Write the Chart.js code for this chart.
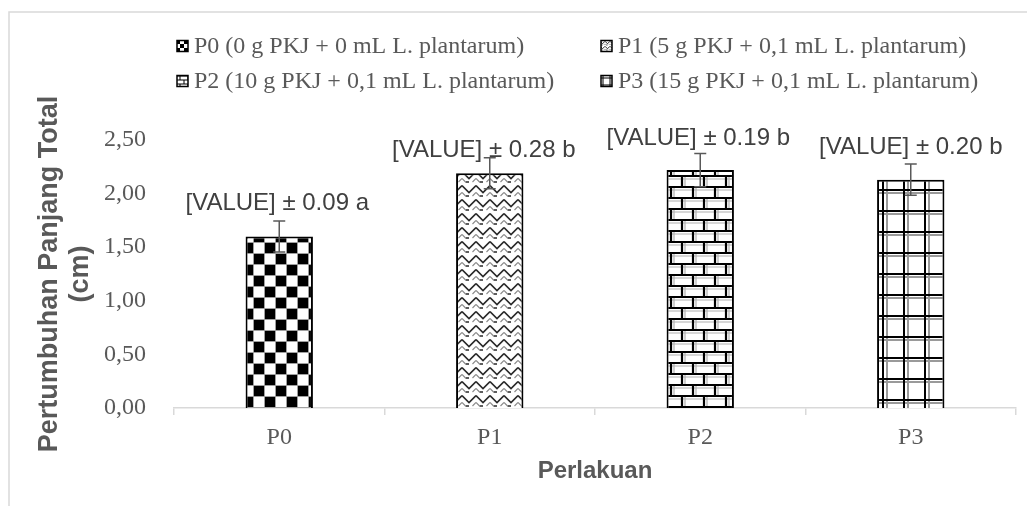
<!DOCTYPE html>
<html>
<head>
<meta charset="utf-8">
<script src="https://cdn.jsdelivr.net/npm/chart.js@4.4.0/dist/chart.umd.min.js"></script>
<style>
  html, body { margin: 0; padding: 0; background: #fff; }
  #wrap { width: 1027px; height: 506px; }
</style>
</head>
<body>
<div id="wrap"><canvas id="chart" width="1027" height="506"></canvas></div>
<script>
// data
const categories = ['P0', 'P1', 'P2', 'P3'];
const legendNames = [
  'P0 (0 g PKJ + 0 mL L. plantarum)',
  'P1 (5 g PKJ + 0,1 mL L. plantarum)',
  'P2 (10 g PKJ + 0,1 mL L. plantarum)',
  'P3 (15 g PKJ + 0,1 mL L. plantarum)'
];
const growth = [1.60, 2.19, 2.22, 2.13];
const errors = [0.145, 0.145, 0.155, 0.145];
const valueLabels = ['[VALUE] ± 0.09 a', '[VALUE] ± 0.28 b', '[VALUE] ± 0.19 b', '[VALUE] ± 0.20 b'];
const yTicks = [0, 0.5, 1, 1.5, 2, 2.5];
const patternKinds = ['checker', 'weave', 'brick', 'grid'];

const grey = '#595959';

// excel-like fill patterns
function makePattern(kind, s) {
  const c = document.createElement('canvas');
  const g = c.getContext('2d');
  if (kind === 'checker') {
    const k = Math.max(2, Math.round(11 * s));
    c.width = c.height = 2 * k;
    g.fillStyle = '#fff'; g.fillRect(0, 0, 2 * k, 2 * k);
    g.fillStyle = '#000';
    g.fillRect(0, 0, k, k);
    g.fillRect(k, k, k, k);
    if (s > 0.6) {
      g.strokeStyle = '#a0a0a0'; g.lineWidth = 1;
      g.beginPath();
      g.moveTo(0, 0.5); g.lineTo(2 * k, 0.5);
      g.moveTo(0, k + 0.5); g.lineTo(2 * k, k + 0.5);
      g.moveTo(0.5, 0); g.lineTo(0.5, 2 * k);
      g.moveTo(k + 0.5, 0); g.lineTo(k + 0.5, 2 * k);
      g.stroke();
    }
  } else if (kind === 'weave') {
    const t = Math.max(4, Math.round(14 * s));
    c.width = c.height = t;
    g.fillStyle = '#fff'; g.fillRect(0, 0, t, t);
    g.strokeStyle = '#2a2a2a'; g.lineWidth = Math.max(1, 1.6 * s);
    g.beginPath();
    for (const a of [-t, 0]) {
      g.moveTo(0, a + t / 4);
      g.lineTo(t / 2, a + 3 * t / 4);
      g.lineTo(t, a + t / 4);
      g.moveTo(t / 4, a + t);
      g.lineTo(t / 2, a + 3 * t / 4 + t / 4);
    }
    g.stroke();
    g.strokeStyle = '#8a8a8a'; g.lineWidth = Math.max(0.8, 1.2 * s);
    g.beginPath();
    for (const a of [-t, 0]) {
      g.moveTo(0, a + 3 * t / 4);
      g.lineTo(t / 4, a + t);
      g.moveTo(3 * t / 4, a + t);
      g.lineTo(t, a + 3 * t / 4);
    }
    g.stroke();
  } else if (kind === 'brick') {
    const w = Math.max(4, Math.round(22 * s)), h = Math.max(2, Math.round(11 * s));
    c.width = w; c.height = 2 * h;
    g.fillStyle = '#fff'; g.fillRect(0, 0, w, 2 * h);
    const lw = Math.max(1, 2.2 * s);
    if (s > 0.6) {
      g.strokeStyle = '#b0b0b0'; g.lineWidth = 1.2;
      g.beginPath();
      g.moveTo(0, 3); g.lineTo(w, 3);
      g.moveTo(0, h + 3); g.lineTo(w, h + 3);
      g.moveTo(3, 0); g.lineTo(3, h);
      g.moveTo(w / 2 + 3, h); g.lineTo(w / 2 + 3, 2 * h);
      g.stroke();
    }
    g.strokeStyle = '#000'; g.lineWidth = lw;
    g.beginPath();
    g.moveTo(0, 0); g.lineTo(w, 0);
    g.moveTo(0, h); g.lineTo(w, h);
    g.moveTo(0, 2 * h); g.lineTo(w, 2 * h);
    g.moveTo(0, 0); g.lineTo(0, h);
    g.moveTo(w, 0); g.lineTo(w, h);
    g.moveTo(w / 2, h); g.lineTo(w / 2, 2 * h);
    g.stroke();
  } else {
    const k = Math.max(3, Math.round(21 * s));
    c.width = c.height = k;
    g.fillStyle = '#fff'; g.fillRect(0, 0, k, k);
    if (s > 0.6) {
      g.strokeStyle = '#9a9a9a'; g.lineWidth = 2;
      g.beginPath();
      g.moveTo(5, 0); g.lineTo(5, k);
      g.moveTo(0, 4); g.lineTo(k, 4);
      g.stroke();
    }
    g.strokeStyle = '#000'; g.lineWidth = Math.max(1, 2 * s);
    g.beginPath();
    g.moveTo(1, 0); g.lineTo(1, k);
    g.moveTo(0, 1); g.lineTo(k, 1);
    g.stroke();
  }
  return g.createPattern(c, 'repeat');
}

const barFills = patternKinds.map(k => makePattern(k, 1));
const swatchFills = patternKinds.map(k => makePattern(k, 0.35));

// frame + legend drawn on the canvas
const frameAndLegend = {
  id: 'frameAndLegend',
  beforeDraw(chart) {
    const ctx = chart.ctx;
    ctx.save();
    ctx.strokeStyle = '#d9d9d9';
    ctx.lineWidth = 1.5;
    ctx.beginPath();
    ctx.moveTo(9, chart.height);
    ctx.lineTo(9, 12);
    ctx.lineTo(chart.width, 12);
    ctx.stroke();

    const cols = [177, 601], rows = [46, 81];
    ctx.font = '24px "Liberation Serif"';
    ctx.textBaseline = 'middle';
    ctx.textAlign = 'left';
    legendNames.forEach((name, i) => {
      const x = cols[i % 2], y = rows[Math.floor(i / 2)];
      ctx.fillStyle = swatchFills[i];
      ctx.fillRect(x, y - 5.5, 11, 11);
      ctx.strokeStyle = '#000';
      ctx.lineWidth = 1.5;
      ctx.strokeRect(x, y - 5.5, 11, 11);
      ctx.fillStyle = grey;
      ctx.fillText(name, x + 17, y + 1);
    });
    ctx.restore();
  }
};

// error bars and value labels
const barExtras = {
  id: 'barExtras',
  afterDatasetsDraw(chart, args, opts) {
    const ctx = chart.ctx;
    const y = chart.scales.y;
    const meta = chart.getDatasetMeta(0);
    ctx.save();
    meta.data.forEach((bar, i) => {
      const hi = y.getPixelForValue(growth[i] + errors[i]);
      const lo = y.getPixelForValue(growth[i] - errors[i]);
      ctx.strokeStyle = grey;
      ctx.lineWidth = 1.5;
      ctx.beginPath();
      ctx.moveTo(bar.x, hi); ctx.lineTo(bar.x, lo);
      ctx.moveTo(bar.x - 6, hi); ctx.lineTo(bar.x + 6, hi);
      ctx.moveTo(bar.x - 6, lo); ctx.lineTo(bar.x + 6, lo);
      ctx.stroke();

      ctx.font = '24px "Liberation Sans"';
      ctx.fillStyle = '#404040';
      ctx.textAlign = 'center';
      ctx.textBaseline = 'middle';
      ctx.fillText(valueLabels[i], bar.x + opts.dx[i], bar.y - opts.lift[i]);
    });
    ctx.restore();
  }
};

new Chart(document.getElementById('chart'), {
  type: 'bar',
  data: {
    labels: categories,
    datasets: [{
      label: 'Pertumbuhan Panjang Total',
      data: growth,
      backgroundColor: barFills,
      borderColor: '#000',
      borderWidth: 2,
      barPercentage: 0.32,
      categoryPercentage: 1.0
    }]
  },
  options: {
    responsive: false,
    animation: false,
    devicePixelRatio: 1,
    layout: { padding: { top: 140, left: 26, right: 11, bottom: 20 } },
    plugins: {
      legend: { display: false },
      tooltip: { enabled: false },
      barExtras: { dx: [-2, -6, -2, 0], lift: [33, 23, 32, 32] }
    },
    scales: {
      x: {
        offset: true,
        afterFit: s => { s.height = 78; },
        grid: { display: true, drawOnChartArea: false, offset: true, tickLength: 7, color: '#d9d9d9', lineWidth: 1.5 },
        border: { color: '#d9d9d9', width: 1.5 },
        ticks: { color: grey, font: { family: 'Liberation Serif', size: 24 }, padding: 8 },
        title: {
          display: true, text: 'Perlakuan', color: grey,
          font: { family: 'Liberation Sans', size: 24, weight: 'bold' },
          padding: { top: 3, bottom: 0 }
        }
      },
      y: {
        min: 0,
        max: 2.5,
        afterFit: s => { s.width = 148; },
        afterBuildTicks: s => { s.ticks = yTicks.map(v => ({ value: v })); },
        grid: { display: false },
        border: { display: false },
        ticks: {
          color: grey,
          font: { family: 'Liberation Serif', size: 24 },
          padding: 20,
          callback: v => v.toFixed(2).replace('.', ',')
        },
        title: {
          display: true, text: ['Pertumbuhan Panjang Total', '(cm)'], color: grey,
          font: { family: 'Liberation Sans', size: 27, weight: 'bold', lineHeight: 1.15 },
          padding: { top: 8, bottom: 10 }
        }
      }
    }
  },
  plugins: [frameAndLegend, barExtras]
});
</script>
</body>
</html>
